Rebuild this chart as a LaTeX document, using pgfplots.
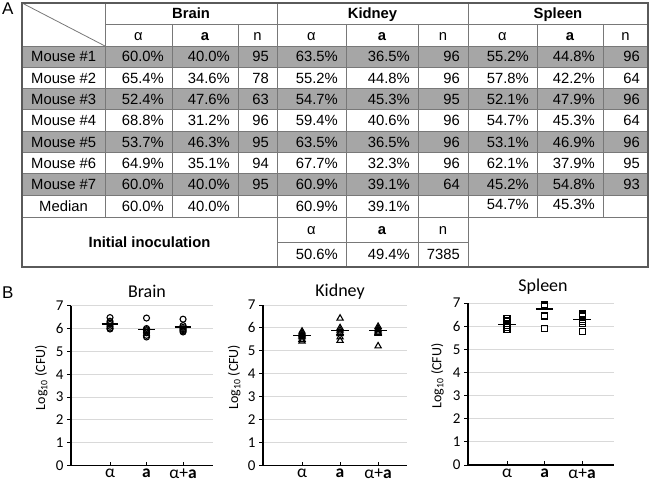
\documentclass[border=0pt]{standalone}
\usepackage{pgfplots}
\pgfplotsset{compat=1.18}
\usepackage{fontspec}
\setmainfont{Liberation Sans}
\newfontfamily\calfont{Carlito}
\definecolor{rowgray}{RGB}{166,166,166}
\definecolor{linegray}{RGB}{120,120,120}
\definecolor{bordergray}{RGB}{90,90,90}
\definecolor{gridgray}{RGB}{217,217,217}
\newcommand{\tf}{\fontsize{14.8}{16}\selectfont}

\pgfplotsset{
  organ/.style={
    scale only axis, ymin=0, ymax=7, ytick={0,1,2,3,4,5,6,7},
    xtick={1,2,3}, xticklabels={α,\textbf{a},α+\textbf{a}},
    axis x line*=bottom, axis y line*=left,
    ymajorgrids, grid style={gridgray,line width=0.9pt},
    axis line style={black,line width=1.1pt},
    xtick align=inside, ytick align=outside,
    major tick length=4pt,
    tick style={black,line width=0.9pt},
    yticklabel style={font=\calfont\fontsize{15}{16}\selectfont},
    xticklabel style={font=\calfont\fontsize{17.5}{19}\selectfont},
    /pgf/number format/assume math mode=true,
    title style={font=\calfont\fontsize{18}{20}\selectfont, anchor=base},
    ylabel={Log\textsubscript{10} (CFU)},
    ylabel style={font=\calfont\fontsize{14}{15}\selectfont, anchor=center},
    clip=false,
  },
  mean/.style={black,line width=1.5pt,mark=none,forget plot},
}

\begin{document}
\begin{tikzpicture}
\path[use as bounding box] (0,0) rectangle (650pt,-484pt);
\begin{scope}[x=1pt,y=1pt,font=\tf,
  tline/.style={draw=linegray,line width=0.8pt},
  every node/.style={inner sep=0pt}]
  % gray rows
  \foreach \i in {1,3,5,7} {\fill[rowgray] (22,{-(46+21.3*(\i-1))}) rectangle (648,{-(46+21.3*\i)});}
  % horizontal lines
  \draw[tline] (105,-24) -- (648,-24);
  \draw[tline] (22,-46) -- (648,-46);
  \foreach \k in {1,...,7} {\draw[tline] (22,{-(46+21.3*\k)}) -- (648,{-(46+21.3*\k)});}
  \draw[tline] (22,-217) -- (648,-217);
  \draw[tline] (277,-242) -- (468,-242);
  % vertical lines
  \draw[tline] (105,-3) -- (105,-217);
  \draw[tline] (172,-24) -- (172,-217);
  \draw[tline] (238,-24) -- (238,-217);
  \draw[tline] (277,-3) -- (277,-267);
  \draw[tline] (346,-24) -- (346,-267);
  \draw[tline] (418,-24) -- (418,-267);
  \draw[tline] (468,-3) -- (468,-267);
  \draw[tline] (537,-24) -- (537,-217);
  \draw[tline] (603,-24) -- (603,-217);
  % diagonal
  \draw[tline] (22,-3) -- (105,-46);
  % outer border
  \draw[draw=bordergray,line width=1.3pt] (22,-3) rectangle (648,-267);
  % headers
  \node[anchor=base] at (191,-18.8) {\textbf{Brain}};
  \node[anchor=base] at (372.5,-18.8) {\textbf{Kidney}};
  \node[anchor=base] at (558,-18.8) {\textbf{Spleen}};
  \foreach \xa/\xb/\xn in {138.5/205/257.5, 311.5/382/443, 502.5/570/625.5} {
    \node[anchor=base] at (\xa,-40.3) {α};
    \node[anchor=base] at (\xb,-40.3) {\textbf{a}};
    \node[anchor=base] at (\xn,-40.3) {n};
  }
  % mouse rows
  \foreach \i/\ba/\bb/\bn/\ka/\kb/\kn/\sa/\sb/\sn in {
    1/60.0/40.0/95/63.5/36.5/96/55.2/44.8/96,
    2/65.4/34.6/78/55.2/44.8/96/57.8/42.2/64,
    3/52.4/47.6/63/54.7/45.3/95/52.1/47.9/96,
    4/68.8/31.2/96/59.4/40.6/96/54.7/45.3/64,
    5/53.7/46.3/95/63.5/36.5/96/53.1/46.9/96,
    6/64.9/35.1/94/67.7/32.3/96/62.1/37.9/95,
    7/60.0/40.0/95/60.9/39.1/64/45.2/54.8/93} {
    \pgfmathsetmacro{\yb}{-(46+21.3*(\i-0.5)+5.3)}
    \node[anchor=base west] at (31,\yb) {Mouse \#\i};
    \node[anchor=base east] at (164,\yb) {\ba\%};
    \node[anchor=base east] at (230,\yb) {\bb\%};
    \node[anchor=base east] at (269,\yb) {\bn};
    \node[anchor=base east] at (338,\yb) {\ka\%};
    \node[anchor=base east] at (410,\yb) {\kb\%};
    \node[anchor=base east] at (460,\yb) {\kn};
    \node[anchor=base east] at (529,\yb) {\sa\%};
    \node[anchor=base east] at (595,\yb) {\sb\%};
    \node[anchor=base east] at (640,\yb) {\sn};
  }
  % median
  \node[anchor=base] at (63.5,-211.3) {Median};
  \node[anchor=base east] at (164,-211.3) {60.0\%};
  \node[anchor=base east] at (230,-211.3) {40.0\%};
  \node[anchor=base east] at (338,-211.3) {60.9\%};
  \node[anchor=base east] at (410,-211.3) {39.1\%};
  \node[anchor=base east] at (529,-209) {54.7\%};
  \node[anchor=base east] at (595,-209) {45.3\%};
  % initial inoculation
  \node[anchor=base] at (149.5,-247.3) {\textbf{Initial inoculation}};
  \node[anchor=base] at (311.5,-234.8) {α};
  \node[anchor=base] at (382,-234.8) {\textbf{a}};
  \node[anchor=base] at (443,-234.8) {n};
  \node[anchor=base east] at (338,-259.8) {50.6\%};
  \node[anchor=base east] at (410,-259.8) {49.4\%};
  \node[anchor=base east] at (460,-259.8) {7385};
  % panel letters
  \node[anchor=base west,font=\fontsize{17}{18}\selectfont] at (2,-15) {A};
  \node[anchor=base west,font=\fontsize{17}{18}\selectfont] at (2,-298) {B};
\end{scope}

% Brain
\begin{axis}[organ, at={(71pt,-465.5pt)}, anchor=south west,
  width=142pt, height=159.8pt, xmin=-0.068, xmax=3.82,
  title={Brain}, title style={at={(axis description cs:0.535,1)}, yshift=2.5pt},
  ylabel style={at={(axis description cs:-0.21,0.55)}}]
\addplot[only marks, mark=o, mark size=3pt, black, line width=1.1pt] coordinates {
 (1,6.48) (1,6.32) (1,6.25) (1,6.18) (1,6.10) (1,6.02) (1,5.98)
 (2,6.46) (2,6.00) (2,5.95) (2,5.90) (2,5.81) (2,5.70) (2,5.63)
 (3,6.41) (3,6.13) (3,6.05) (3,5.99) (3,5.95) (3,5.90) (3,5.85)};
\addplot[mean] coordinates {(0.77,6.20) (1.23,6.20)};
\addplot[mean] coordinates {(1.77,5.96) (2.23,5.96)};
\addplot[mean] coordinates {(2.77,6.06) (3.23,6.06)};
\end{axis}

% Kidney
\begin{axis}[organ, at={(263pt,-465.5pt)}, anchor=south west,
  width=144pt, height=160.5pt, xmin=-0.026, xmax=3.76,
  title={Kidney}, title style={at={(axis description cs:0.535,1)}, yshift=3pt},
  ylabel style={at={(axis description cs:-0.2,0.55)}}]
\addplot[only marks, mark=triangle, mark size=3.6pt, black, line width=1.1pt] coordinates {
 (1,5.85) (1,5.78) (1,5.70) (1,5.65) (1,5.60) (1,5.50) (1,5.42)
 (2,6.42) (2,6.00) (2,5.90) (2,5.80) (2,5.75) (2,5.60) (2,5.45)
 (3,6.06) (3,5.98) (3,5.91) (3,5.85) (3,5.80) (3,5.76) (3,5.21)};
\addplot[mean] coordinates {(0.77,5.66) (1.23,5.66)};
\addplot[mean] coordinates {(1.77,5.88) (2.23,5.88)};
\addplot[mean] coordinates {(2.77,5.88) (3.23,5.88)};
\end{axis}

% Spleen
\begin{axis}[organ, at={(468pt,-465pt)}, anchor=south west,
  width=146pt, height=162pt, xmin=-0.04, xmax=3.85,
  title={Spleen}, title style={at={(axis description cs:0.514,1)}, yshift=6pt},
  ylabel style={at={(axis description cs:-0.21,0.55)}}]
\addplot[only marks, mark=square, mark size=3pt, black, line width=1.1pt] coordinates {
 (1,6.34) (1,6.25) (1,6.19) (1,6.10) (1,6.04) (1,5.95) (1,5.85)
 (2,6.95) (2,6.90) (2,6.88) (2,6.85) (2,6.44) (2,5.90)
 (3,6.56) (3,6.48) (3,6.41) (3,6.30) (3,6.19) (3,6.10) (3,5.75)};
\addplot[mean] coordinates {(0.77,6.07) (1.23,6.07)};
\addplot[mean] coordinates {(1.77,6.75) (2.23,6.75)};
\addplot[mean] coordinates {(2.77,6.29) (3.23,6.29)};
\end{axis}
\end{tikzpicture}
\end{document}
